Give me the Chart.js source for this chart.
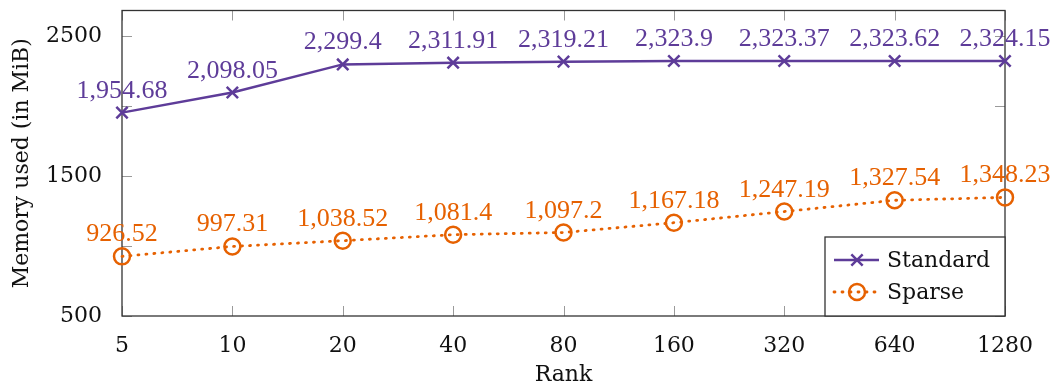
<!DOCTYPE html>
<html>
<head>
<meta charset="utf-8">
<script src="https://cdn.jsdelivr.net/npm/chart.js@4.4.1/dist/chart.umd.min.js"></script>
<style>
  html, body { margin: 0; padding: 0; background: #fff; }
  #wrap { width: 1062px; height: 389px; }
</style>
</head>
<body>
<div id="wrap"><canvas id="memChart" width="1062" height="389"></canvas></div>
<script>
// Data
const ranks = ['5', '10', '20', '40', '80', '160', '320', '640', '1280'];
const standardMem = [1954.68, 2098.05, 2299.4, 2311.91, 2319.21, 2323.9, 2323.37, 2323.62, 2324.15];
const sparseMem = [926.52, 997.31, 1038.52, 1081.4, 1097.2, 1167.18, 1247.19, 1327.54, 1348.23];
const yTickLabels = [500, 1500, 2500];
const yTickMarks = [500, 1000, 1500, 2000, 2500];

const purple = '#5e3c99';
const orange = '#e66101';
const tickFont = { family: 'DejaVu Serif', size: 22 };
const labelFont = '26px "Liberation Serif"';

// Frame, inward tick marks, value labels and the boxed legend (pgfplots look)
const pgfDecor = {
    id: 'pgfDecor',
    beforeDatasetsDraw(chart) {
        const { ctx, chartArea: a, scales } = chart;
        ctx.save();
        ctx.strokeStyle = '#9a9a9a';
        ctx.lineWidth = 1;
        yTickMarks.forEach(v => {
            const y = Math.round(scales.y.getPixelForValue(v)) + 0.5;
            ctx.beginPath();
            ctx.moveTo(a.left, y); ctx.lineTo(a.left + 10, y);
            ctx.moveTo(a.right, y); ctx.lineTo(a.right - 10, y);
            ctx.stroke();
        });
        ranks.forEach((r, i) => {
            const x = Math.round(scales.x.getPixelForValue(i)) + 0.5;
            ctx.beginPath();
            ctx.moveTo(x, a.top); ctx.lineTo(x, a.top + 10);
            ctx.moveTo(x, a.bottom); ctx.lineTo(x, a.bottom - 10);
            ctx.stroke();
        });
        ctx.strokeStyle = '#333';
        ctx.lineWidth = 1.3;
        ctx.strokeRect(a.left, a.top, a.right - a.left, a.bottom - a.top);
        ctx.restore();
    },
    afterDraw(chart) {
        const { ctx, chartArea: a } = chart;
        ctx.save();
        // value labels above each point
        ctx.font = labelFont;
        ctx.textAlign = 'center';
        ctx.textBaseline = 'alphabetic';
        chart.data.datasets.forEach((ds, di) => {
            const meta = chart.getDatasetMeta(di);
            ctx.fillStyle = ds.borderColor;
            meta.data.forEach((pt, i) => {
                const txt = ds.data[i].toLocaleString('en-US', { maximumFractionDigits: 2 });
                ctx.fillText(txt, pt.x, pt.y - 15);
            });
        });

        // legend box in the lower right corner
        const w = 180, h = 79;
        const lx = a.right - w, ly = a.bottom - h;
        ctx.fillStyle = '#fff';
        ctx.fillRect(lx, ly, w, h);
        ctx.strokeStyle = '#333';
        ctx.lineWidth = 1.3;
        ctx.strokeRect(lx, ly, w, h);
        chart.data.datasets.forEach((ds, di) => {
            const y = ly + 23 + di * 32;
            ctx.save();
            ctx.strokeStyle = ds.borderColor;
            ctx.lineWidth = ds.borderWidth;
            ctx.lineCap = ds.borderCapStyle || 'butt';
            ctx.setLineDash(ds.borderDash || []);
            ctx.beginPath();
            ctx.moveTo(lx + 9, y); ctx.lineTo(lx + 54, y);
            ctx.stroke();
            ctx.setLineDash([]);
            ctx.lineWidth = ds.pointBorderWidth;
            ctx.fillStyle = ds.pointBackgroundColor;
            Chart.helpers.drawPoint(ctx, { pointStyle: ds.pointStyle, radius: ds.pointRadius, rotation: 0, borderWidth: ds.pointBorderWidth }, lx + 32, y);
            ctx.restore();
            ctx.fillStyle = '#111';
            ctx.font = '22px "DejaVu Serif"';
            ctx.textAlign = 'left';
            ctx.textBaseline = 'middle';
            ctx.fillText(ds.label, lx + 62, y + 1);
        });
        ctx.restore();
    }
};

new Chart(document.getElementById('memChart').getContext('2d'), {
    type: 'line',
    data: {
        labels: ranks,
        datasets: [{
            label: 'Standard',
            data: standardMem,
            borderColor: purple,
            borderWidth: 2.5,
            pointStyle: 'crossRot',
            pointRadius: 8,
            pointBorderWidth: 2.5,
            pointBorderColor: purple,
            pointBackgroundColor: purple,
            tension: 0,
            clip: false
        }, {
            label: 'Sparse',
            data: sparseMem,
            borderColor: orange,
            borderWidth: 2.8,
            borderDash: [1, 7],
            borderCapStyle: 'round',
            pointStyle: 'circle',
            pointRadius: 8,
            pointBorderWidth: 2.5,
            pointBorderColor: orange,
            pointBackgroundColor: 'rgba(0,0,0,0)',
            tension: 0,
            clip: false
        }]
    },
    options: {
        responsive: false,
        devicePixelRatio: 1,
        animation: false,
        layout: { padding: { top: 8, right: 57, left: 0, bottom: 0 } },
        plugins: {
            legend: { display: false },
            tooltip: { enabled: false }
        },
        scales: {
            x: {
                type: 'category',
                offset: false,
                grid: { display: false },
                border: { display: false },
                ticks: { font: tickFont, color: '#111', padding: 9, maxRotation: 0 },
                title: { display: true, text: 'Rank', font: tickFont, color: '#111', padding: { top: 0, bottom: 1 } },
                afterFit(scale) { scale.height = 73; }
            },
            y: {
                min: 500,
                max: 2685,
                grid: { display: false },
                border: { display: false },
                ticks: { font: tickFont, color: '#111', padding: 12, callback: v => String(v) },
                afterBuildTicks(scale) { scale.ticks = yTickLabels.map(v => ({ value: v })); },
                title: { display: true, text: 'Memory used (in MiB)', font: tickFont, color: '#111', padding: { top: 9, bottom: 0 } },
                afterFit(scale) {
                    scale.width = 122;
                    scale.paddingTop = 0;
                    scale.paddingBottom = 0;
                }
            }
        }
    },
    plugins: [pgfDecor]
});
</script>
</body>
</html>
